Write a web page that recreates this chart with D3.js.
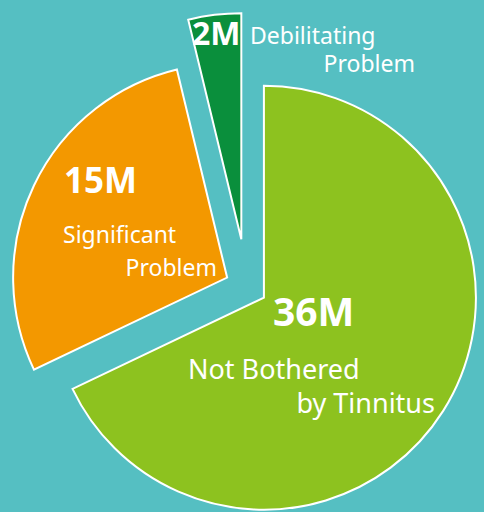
<!DOCTYPE html>
<html>
<head>
<meta charset="utf-8">
<script src="https://d3js.org/d3.v7.min.js"></script>
<style>
  html, body { margin: 0; padding: 0; background: #55bfc2; }
  svg { display: block; }
</style>
</head>
<body>
<script>
  // data
  const categories = ['Not Bothered by Tinnitus', 'Significant Problem', 'Debilitating Problem'];
  const values = [36, 15, 2];
  const valueLabels = ['36M', '15M', '2M'];
  const labelLines = [['Not Bothered', 'by Tinnitus'], ['Significant', 'Problem'], ['Debilitating', 'Problem']];
  const colors = ['#8dc21f', '#f39800', '#0a8f3c'];

  const width = 484, height = 512;
  const cx = 247, cy = 287;
  const explode = [20, 22, 48];
  const radii = [212, 214, 226];

  const svg = d3.select('body').append('svg')
    .attr('width', width)
    .attr('height', height);

  svg.append('rect')
    .attr('width', width)
    .attr('height', height)
    .attr('fill', '#55bfc2');

  const pie = d3.pie().sort(null).value(d => d);
  const arcs = pie(values);

  const slice = svg.append('g')
    .selectAll('g')
    .data(arcs)
    .join('g')
    .attr('transform', (d, i) => {
      const mid = (d.startAngle + d.endAngle) / 2;
      const x = cx + explode[i] * Math.sin(mid);
      const y = cy - explode[i] * Math.cos(mid);
      return `translate(${x},${y})`;
    });

  slice.append('path')
    .attr('d', (d, i) => d3.arc().innerRadius(0).outerRadius(radii[i])(d))
    .attr('fill', (d, i) => colors[i])
    .attr('stroke', '#fff')
    .attr('stroke-width', 2)
    .attr('stroke-linejoin', 'miter');

  // label placement (number, then two text lines; second line right aligned)
  const labelPos = [
    { num: [273, 326, 'start', 39], l1: [188, 379, 'start'], l2: [435, 413, 'end'], size: 27 },
    { num: [64, 193, 'start', 35], l1: [63, 243, 'start'], l2: [217, 276, 'end'], size: 23 },
    { num: [192, 45, 'start', 32], l1: [250, 44, 'start'], l2: [415, 72, 'end'], size: 23 }
  ];

  const labels = svg.append('g')
    .attr('font-family', '"Noto Sans", sans-serif')
    .attr('fill', '#fff')
    .selectAll('g')
    .data(arcs)
    .join('g');

  labels.append('text')
    .attr('x', (d, i) => labelPos[i].num[0])
    .attr('y', (d, i) => labelPos[i].num[1])
    .attr('text-anchor', (d, i) => labelPos[i].num[2])
    .attr('font-size', (d, i) => labelPos[i].num[3])
    .attr('font-weight', 'bold')
    .text((d, i) => valueLabels[i]);

  labels.append('text')
    .attr('x', (d, i) => labelPos[i].l1[0])
    .attr('y', (d, i) => labelPos[i].l1[1])
    .attr('text-anchor', (d, i) => labelPos[i].l1[2])
    .attr('font-size', (d, i) => labelPos[i].size)
    .text((d, i) => labelLines[i][0]);

  labels.append('text')
    .attr('x', (d, i) => labelPos[i].l2[0])
    .attr('y', (d, i) => labelPos[i].l2[1])
    .attr('text-anchor', (d, i) => labelPos[i].l2[2])
    .attr('font-size', (d, i) => labelPos[i].size)
    .text((d, i) => labelLines[i][1]);
</script>
</body>
</html>
